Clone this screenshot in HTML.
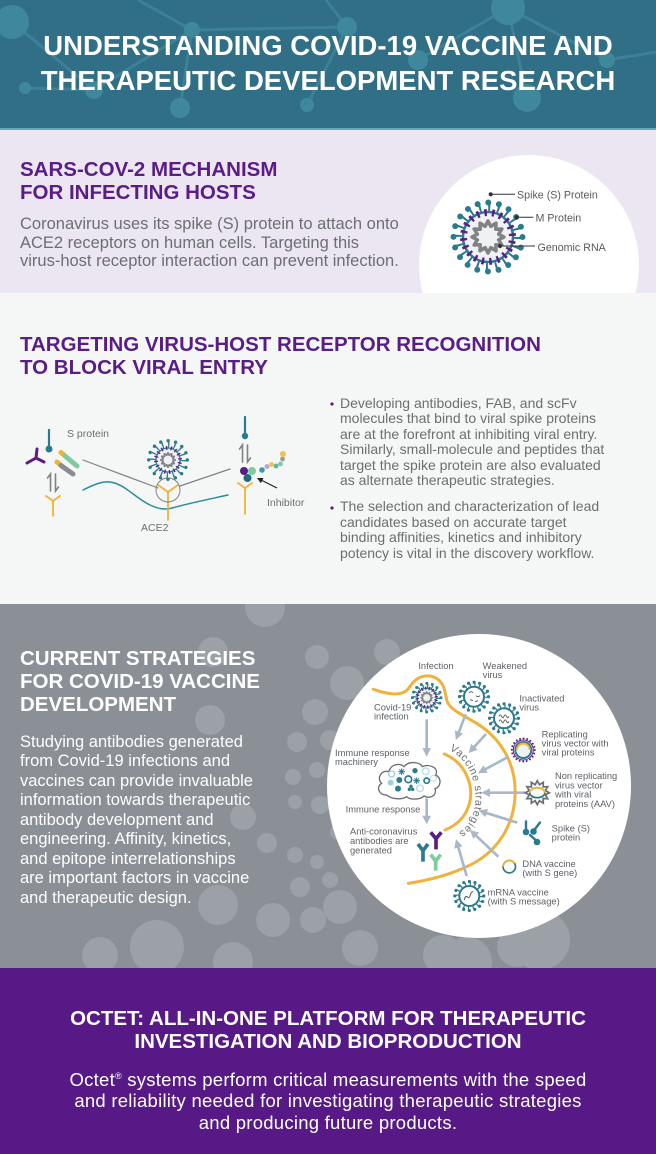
<!DOCTYPE html>
<html><head><meta charset="utf-8">
<style>
*{margin:0;padding:0;box-sizing:border-box}
html,body{width:656px;height:1154px;overflow:hidden;background:#fff}
body{position:relative;font-family:"Liberation Sans",Arial,sans-serif}
.abs{position:absolute;white-space:nowrap}
.h{font-weight:bold;font-size:20.5px;line-height:23px}
</style></head><body>
<svg class="abs" style="left:0;top:0" width="656" height="1154" viewBox="0 0 656 1154" font-family="Liberation Sans, Arial, sans-serif">
<defs>
 <polygon id="rna" points="16,0 10.63,2.85 13.86,8 7.78,7.78 8,13.86 2.85,10.63 0,16 -2.85,10.63 -8,13.86 -7.78,7.78 -13.86,8 -10.63,2.85 -16,0 -10.63,-2.85 -13.86,-8 -7.78,-7.78 -8,-13.86 -2.85,-10.63 0,-16 2.85,-10.63 8,-13.86 7.78,-7.78 13.86,-8 10.63,-2.85"/>
 <marker id="ah" viewBox="0 0 10 10" refX="3" refY="5" markerUnits="userSpaceOnUse" markerWidth="26" markerHeight="26" orient="auto"><path d="M0,0 L10,5 L0,10 z" fill="#a9b8c8"/></marker>
 <marker id="bh" viewBox="0 0 10 10" refX="8" refY="5" markerUnits="userSpaceOnUse" markerWidth="6" markerHeight="6" orient="auto"><path d="M0,0 L10,5 L0,10 z" fill="#222"/></marker>
 <clipPath id="s4"><rect x="0" y="604" width="656" height="364"/></clipPath>
 <clipPath id="s2"><rect x="0" y="130" width="656" height="163"/></clipPath>
</defs>

<!-- HEADER -->
<rect x="0" y="0" width="656" height="130" fill="#316f87"/>
<g stroke="#3c8196" stroke-width="3">
 <line x1="12" y1="22" x2="94" y2="90"/><line x1="25" y1="88" x2="94" y2="90"/>
 <line x1="94" y1="90" x2="192" y2="30"/><line x1="138" y1="0" x2="192" y2="30"/>
 <line x1="192" y1="30" x2="180" y2="108"/><line x1="192" y1="30" x2="347" y2="27"/>
 <line x1="326" y1="0" x2="347" y2="27"/><line x1="347" y1="27" x2="307" y2="105"/>
 <line x1="418" y1="60" x2="508" y2="8"/><line x1="508" y1="8" x2="607" y2="60"/>
 <line x1="607" y1="60" x2="656" y2="52"/><line x1="508" y1="8" x2="527" y2="98"/>
</g>
<g fill="#3f889b">
 <circle cx="12" cy="22" r="17"/><circle cx="94" cy="90" r="9"/><circle cx="25" cy="88" r="6"/>
 <circle cx="192" cy="30" r="8"/><circle cx="180" cy="108" r="10"/><circle cx="347" cy="27" r="10"/>
 <circle cx="307" cy="105" r="7"/><circle cx="418" cy="60" r="10"/><circle cx="508" cy="8" r="17"/>
 <circle cx="607" cy="60" r="8"/><circle cx="527" cy="98" r="14"/>
</g>
<rect x="0" y="128" width="656" height="2" fill="#6aa8b9"/>

<!-- SECTION 2 -->
<rect x="0" y="130" width="656" height="163" fill="#ebe6f2"/>
<circle cx="529" cy="265" r="110" fill="#fff" clip-path="url(#s2)"/>
<g transform="translate(488,237)">
 <circle r="29" fill="none" stroke="#2b7b8e" stroke-width="8" stroke-dasharray="2 7.11"/>
 <circle r="34.5" fill="none" stroke="#2b7b8e" stroke-width="6" stroke-linecap="round" stroke-dasharray="0 10.84"/>
 <circle r="25" fill="#f0f1f3" stroke="#2b7b8e" stroke-width="2.5"/>
 <circle r="24.5" fill="none" stroke="#5a1d86" stroke-width="7" stroke-dasharray="2.5 5.197" stroke-dashoffset="3.85"/>
 <use href="#rna" fill="none" stroke="#808285" stroke-width="3.5" stroke-linejoin="round"/>
</g>
<g stroke="#333" stroke-width="1">
 <line x1="490.7" y1="194.3" x2="515" y2="194.3"/><circle cx="490.7" cy="194.3" r="1.6" fill="#333"/>
 <line x1="516.7" y1="217.3" x2="533.3" y2="217.3"/><circle cx="516.7" cy="217.3" r="1.6" fill="#333"/>
 <line x1="500" y1="246" x2="535" y2="246"/><circle cx="500" cy="246" r="1.6" fill="#333"/>
</g>
<g font-size="10.7" fill="#58595b">
 <text x="517" y="198.5">Spike (S) Protein</text>
 <text x="535.5" y="221.5">M Protein</text>
 <text x="537.5" y="250.8">Genomic RNA</text>
</g>

<!-- SECTION 3 -->
<rect x="0" y="293" width="656" height="311" fill="#f5f6f6"/>
<g fill="none" stroke-linecap="round">
 <line x1="49" y1="430" x2="49" y2="446" stroke="#2b7b8e" stroke-width="2.2"/>
 <circle cx="49" cy="449" r="3.5" fill="#2b7b8e" stroke="none"/>
 <path d="M36,458 L27,463 M36,458 L37,449 M36,458 L44,462" stroke="#5a1d86" stroke-width="3"/>
 <line x1="61" y1="452.5" x2="64" y2="455" stroke="#f2b233" stroke-width="5"/>
 <line x1="65" y1="456" x2="77" y2="466" stroke="#7ecba1" stroke-width="5"/>
 <line x1="57" y1="462" x2="60" y2="464.5" stroke="#f2b233" stroke-width="5"/>
 <line x1="61" y1="465.5" x2="73" y2="474" stroke="#8a8c8f" stroke-width="5"/>
 <path d="M50.5,491 L50.5,474 L47.5,478 M55.5,474 L55.5,491 L58.5,487" stroke="#7f8184" stroke-width="1.6"/>
 <path d="M46,496 L53,501 L60,496 M53,501 L53,516" stroke="#f2b233" stroke-width="1.8"/>
 <line x1="83" y1="460" x2="158" y2="488" stroke="#808285" stroke-width="1.2"/>
 <line x1="180" y1="486" x2="230" y2="469" stroke="#808285" stroke-width="1.2"/>
 <path d="M83,490 C95,484 103,481 110,482 C125,484 135,498 150,505 C158,509 165,510 172,508 C190,503 210,499 228,495" stroke="#2b8aa0" stroke-width="1.5"/>
 <path d="M158,485 L168,492 L178,485 M168,492 L168,520" stroke="#f2b233" stroke-width="1.8"/>
 <circle cx="168" cy="490" r="12" stroke="#808285" stroke-width="1"/>
 <line x1="245" y1="417" x2="245" y2="433" stroke="#2b7b8e" stroke-width="2.2"/>
 <circle cx="245" cy="436" r="3.2" fill="#2b7b8e" stroke="none"/>
 <path d="M242.5,462 L242.5,445 L239.5,449 M247.5,445 L247.5,462 L250.5,458" stroke="#7f8184" stroke-width="1.6"/>
 <path d="M238,483 L245,488 L252,483 M245,488 L245,514" stroke="#f2b233" stroke-width="1.8"/>
</g>
<circle cx="244" cy="471" r="4" fill="#5a1d86"/>
<circle cx="252" cy="471" r="4" fill="#7ecba1"/>
<circle cx="247.5" cy="478" r="4" fill="#1f6a82"/>
<circle cx="262" cy="470" r="2.8" fill="#3c9ab0"/>
<circle cx="267" cy="466.5" r="2.4" fill="#b9a2d0"/>
<circle cx="271.5" cy="464.5" r="2.4" fill="#f2c14e"/>
<circle cx="276" cy="466" r="2.4" fill="#5fb6a8"/>
<circle cx="280.5" cy="464" r="2.4" fill="#7ecba1"/>
<circle cx="282.5" cy="459" r="2.4" fill="#9a9c9f"/>
<circle cx="283" cy="454" r="3" fill="#f2c14e"/>
<line x1="277" y1="488" x2="258" y2="478.5" stroke="#222" stroke-width="1.2" marker-end="url(#bh)"/>
<g transform="translate(168,460)">
 <circle r="15" fill="none" stroke="#2b7b8e" stroke-width="6" stroke-dasharray="1.3 4.59"/>
 <circle r="19.3" fill="none" stroke="#2b7b8e" stroke-width="3.4" stroke-linecap="round" stroke-dasharray="0 7.58"/>
 <circle r="12" fill="#f0f1f3" stroke="#2b7b8e" stroke-width="1.3"/>
 <circle r="12" fill="none" stroke="#5a1d86" stroke-width="4" stroke-dasharray="1.3 3.412" stroke-dashoffset="2.356"/>
 <use href="#rna" transform="scale(0.45)" fill="none" stroke="#808285" stroke-width="4" stroke-linejoin="round"/>
</g>
<g font-size="10.5" fill="#6d6e71">
 <text x="67" y="437">S protein</text>
 <text x="267" y="506">Inhibitor</text>
 <text x="141" y="531">ACE2</text>
</g>
<circle cx="332" cy="404" r="1.6" fill="#5a1d86"/>
<circle cx="332" cy="508" r="1.6" fill="#5a1d86"/>

<!-- SECTION 4 -->
<rect x="0" y="604" width="656" height="364" fill="#8b9097"/>
<g fill="#9ca1a7" clip-path="url(#s4)">
 <circle cx="265" cy="607" r="20"/><circle cx="213" cy="652" r="15"/><circle cx="317" cy="657" r="12"/>
 <circle cx="347" cy="683" r="17"/><circle cx="387" cy="652" r="13"/><circle cx="210" cy="720" r="15"/>
 <circle cx="315" cy="712" r="13"/><circle cx="297" cy="742" r="10"/><circle cx="317" cy="770" r="8"/>
 <circle cx="293" cy="777" r="8"/><circle cx="295" cy="802" r="7"/><circle cx="243" cy="817" r="13"/>
 <circle cx="267" cy="843" r="10"/><circle cx="295" cy="855" r="8"/><circle cx="317" cy="862" r="7"/>
 <circle cx="300" cy="887" r="10"/><circle cx="330" cy="880" r="8"/><circle cx="273" cy="920" r="17"/>
 <circle cx="313" cy="920" r="13"/><circle cx="218" cy="905" r="20"/><circle cx="157" cy="947" r="27"/>
 <circle cx="233" cy="962" r="20"/><circle cx="340" cy="907" r="17"/><circle cx="517" cy="947" r="20"/>
 <circle cx="443" cy="955" r="20"/><circle cx="540" cy="940" r="30"/><circle cx="467" cy="962" r="25"/>
 <circle cx="100" cy="955" r="18"/><circle cx="330" cy="740" r="10"/><circle cx="320" cy="805" r="9"/>
 <circle cx="338" cy="832" r="8"/><circle cx="345" cy="790" r="7"/><circle cx="360" cy="948" r="18"/>
</g>
<circle cx="479" cy="786" r="152" fill="#fff"/>

<g transform="translate(200,600) scale(0.33333)">
 <path d="M520,268 C570,285 610,290 628,262 C645,235 665,225 690,228 C730,235 735,270 740,300 C748,330 790,345 830,370 C910,420 950,500 945,590 C940,680 890,760 800,800 C740,828 680,842 625,850" fill="none" stroke="#f0b23a" stroke-width="9" stroke-linecap="round"/>
 <path d="M733,462 C800,490 822,560 808,612 C796,652 770,676 735,690" fill="none" stroke="#f0b23a" stroke-width="9" stroke-linecap="round"/>
 <path id="vs" d="M748,450 C822,486 840,590 818,645 C803,684 780,700 748,708" fill="none"/>
 <text font-size="32" fill="#6d6e71" letter-spacing="2"><textPath href="#vs">Vaccine strategies</textPath></text>
 <g stroke="#a9b8c8" stroke-width="8" marker-end="url(#ah)">
  <line x1="680" y1="358" x2="680" y2="452"/>
  <line x1="680" y1="595" x2="680" y2="655"/>
  <line x1="797" y1="343" x2="774" y2="403"/>
  <line x1="858" y1="402" x2="818" y2="446"/>
  <line x1="922" y1="472" x2="850" y2="511"/>
  <line x1="975" y1="578" x2="862" y2="578"/>
  <line x1="952" y1="668" x2="853" y2="637"/>
  <line x1="895" y1="770" x2="823" y2="702"/>
  <line x1="800" y1="828" x2="773" y2="735"/>
 </g>
 <path d="M560,585 C535,585 528,560 545,550 C528,535 545,508 567,515 C572,492 600,488 612,500 C625,482 660,485 667,500 C690,490 718,505 707,525 C727,535 722,562 705,566 C712,586 690,598 672,588 C660,600 630,600 620,590 C605,600 575,598 560,585 Z" fill="#fff" stroke="#6d6e71" stroke-width="4"/>
 <g>
  <circle cx="575" cy="522" r="9" fill="none" stroke="#9fd0de" stroke-width="4"/>
  <circle cx="645" cy="512" r="8" fill="#2b7b8e"/>
  <circle cx="677" cy="514" r="10" fill="none" stroke="#b5dbe6" stroke-width="4"/>
  <circle cx="700" cy="535" r="9" fill="none" stroke="#b5dbe6" stroke-width="3"/>
  <circle cx="572" cy="548" r="9" fill="#9fd0de"/>
  <circle cx="598" cy="540" r="9" fill="#2b7b8e"/>
  <circle cx="625" cy="538" r="10" fill="none" stroke="#2b7b8e" stroke-width="5"/>
  <circle cx="680" cy="542" r="8" fill="none" stroke="#2b7b8e" stroke-width="5"/>
  <circle cx="594" cy="566" r="9" fill="#2b7b8e"/>
  <circle cx="628" cy="568" r="5" fill="#2b7b8e"/><circle cx="638" cy="568" r="5" fill="#2b7b8e"/><circle cx="633" cy="559" r="5" fill="#2b7b8e"/>
  <circle cx="660" cy="565" r="10" fill="none" stroke="#b5dbe6" stroke-width="4"/>
  <path d="M605,505 L605,525 M595,515 L615,515 M598,508 L612,522 M612,508 L598,522" stroke="#2b7b8e" stroke-width="3"/>
  <path d="M650,532 L650,552 M640,542 L660,542 M643,535 L657,549 M657,535 L643,549" stroke="#2b7b8e" stroke-width="3"/>
 </g>
 <g fill="none" stroke-width="11">
  <path d="M692,697 L708,716 L724,697 M708,716 L708,748" stroke="#5a1d86"/>
  <path d="M654,732 L669,752 L684,732 M669,752 L669,785" stroke="#2b7b8e"/>
  <path d="M692,764 L707,783 L722,764 M707,783 L707,812" stroke="#7ecba1"/>
 </g>
 <g font-size="28" fill="#5d6167">
  <text x="655" y="207">Infection</text>
  <text x="848" y="207">Weakened</text><text x="848" y="234">virus</text>
  <text x="958" y="305">Inactivated</text><text x="958" y="332">virus</text>
  <text x="1025" y="412">Replicating</text><text x="1025" y="440">virus vector with</text><text x="1025" y="467">viral proteins</text>
  <text x="1065" y="537">Non replicating</text><text x="1065" y="565">virus vector</text><text x="1065" y="593">with viral</text><text x="1065" y="621">proteins (AAV)</text>
  <text x="1055" y="695">Spike (S)</text><text x="1055" y="722">protein</text>
  <text x="967" y="801">DNA vaccine</text><text x="967" y="828">(with S gene)</text>
  <text x="863" y="886">mRNA vaccine</text><text x="863" y="914">(with S message)</text>
  <text x="522" y="331">Covid-19</text><text x="522" y="358">infection</text>
  <text x="405" y="468">Immune response</text><text x="405" y="495">machinery</text>
  <text x="437" y="637">Immune response</text>
  <text x="450" y="704">Anti-coronavirus</text><text x="450" y="732">antibodies are</text><text x="450" y="760">generated</text>
 </g>
</g>
<g transform="translate(426.7,697.7)">
 <circle r="11.5" fill="none" stroke="#2b7b8e" stroke-width="4" stroke-dasharray="1.3 3.216"/>
 <circle r="14.3" fill="none" stroke="#2b7b8e" stroke-width="3" stroke-linecap="round" stroke-dasharray="0 5.616"/>
 <circle r="9.5" fill="#f0f1f3" stroke="#2b7b8e" stroke-width="1.3"/>
 <circle r="9.5" fill="none" stroke="#5a1d86" stroke-width="3.5" stroke-dasharray="1.2 2.531" stroke-dashoffset="1.865"/>
 <use href="#rna" transform="scale(0.36)" fill="none" stroke="#808285" stroke-width="4" stroke-linejoin="round"/>
</g>
<g transform="translate(474,696.7)">
 <circle r="11.75" fill="none" stroke="#2b7b8e" stroke-width="3.5" stroke-dasharray="1.2 3.414"/>
 <circle r="14.5" fill="none" stroke="#2b7b8e" stroke-width="3.2" stroke-linecap="round" stroke-dasharray="0 5.694"/>
 <circle r="10" fill="#fff" stroke="#2b7b8e" stroke-width="2"/>
 <path d="M-5,-4 q2,-2 4,0 M2,-1 q2,2 4,0 M-4,3 l3,1 M1,5 l3,-1" fill="none" stroke="#58595b" stroke-width="0.9"/>
</g>
<g transform="translate(504,718.3)">
 <circle r="11.75" fill="none" stroke="#2b7b8e" stroke-width="3.5" stroke-dasharray="1.2 3.414"/>
 <circle r="14.5" fill="none" stroke="#2b7b8e" stroke-width="3.2" stroke-linecap="round" stroke-dasharray="0 5.694"/>
 <circle r="10" fill="#fff" stroke="#2b7b8e" stroke-width="2"/>
 <path d="M-5,-2 q1.2,-3 2.5,0 t2.5,0 t2.5,0 t2.5,0 M-5,3 q1.2,-3 2.5,0 t2.5,0 t2.5,0 t2.5,0" fill="none" stroke="#58595b" stroke-width="0.9"/>
</g>
<g transform="translate(469.3,896)">
 <circle r="11.75" fill="none" stroke="#2b7b8e" stroke-width="3.5" stroke-dasharray="1.2 3.414"/>
 <circle r="14.5" fill="none" stroke="#2b7b8e" stroke-width="3.2" stroke-linecap="round" stroke-dasharray="0 5.694"/>
 <circle r="10" fill="#fff" stroke="#2b7b8e" stroke-width="2"/>
 <path d="M-5,4 q1,-5 3,-3 t3,-2 t3,-3" fill="none" stroke="#58595b" stroke-width="1"/>
</g>
<g transform="translate(523.3,750)">
 <circle r="11.5" fill="none" stroke="#5a1d86" stroke-width="2" stroke-linecap="round" stroke-dasharray="0 3.61"/>
 <circle r="10" fill="none" stroke="#5a1d86" stroke-width="1"/>
 <circle r="8" fill="#f0f1f3" stroke="#2b7b8e" stroke-width="2"/>
 <path d="M-6.5,0 A6.5,6.5 0 0 1 6.5,0" fill="none" stroke="#f2b233" stroke-width="2"/>
</g>
<g transform="translate(537.3,792.7)">
 <use href="#rna" transform="scale(0.75)" fill="#fff" stroke="#6d6e71" stroke-width="2.3" stroke-linejoin="miter"/>
 <ellipse rx="7.5" ry="5" fill="#fff" stroke="#2b7b8e" stroke-width="1.7"/>
 <path d="M-7.5,0 A7.5,5 0 0 1 7.5,0" fill="none" stroke="#f2b233" stroke-width="1.8"/>
</g>
<g stroke="#2b7b8e" stroke-width="2.4" stroke-linecap="round">
 <line x1="526" y1="821.5" x2="526" y2="829"/>
 <line x1="540" y1="822.5" x2="535" y2="829"/>
 <line x1="530" y1="835" x2="535" y2="839.5"/>
</g>
<circle cx="526" cy="832" r="3.3" fill="#2b7b8e"/>
<circle cx="533.5" cy="831.5" r="3.3" fill="#2b7b8e"/>
<circle cx="537" cy="842" r="3.3" fill="#2b7b8e"/>
<circle cx="509.3" cy="866.7" r="6.2" fill="#fff" stroke="#2b7b8e" stroke-width="1.7"/>
<path d="M503.1,866.7 A6.2,6.2 0 0 1 514.5,863.3" fill="none" stroke="#f2b233" stroke-width="1.8"/>

<!-- SECTION 5 -->
<rect x="0" y="968" width="656" height="186" fill="#571985"/>
</svg>

<div class="abs" style="left:0;width:656px;top:28px;text-align:center;font-weight:bold;font-size:27.5px;line-height:35px;color:#fff">UNDERSTANDING COVID-19 VACCINE AND<br>THERAPEUTIC DEVELOPMENT RESEARCH</div>

<div class="abs h" style="left:20px;top:158.4px;color:#5a1d86">SARS-COV-2 MECHANISM<br>FOR INFECTING HOSTS</div>
<div class="abs" style="left:20px;top:215px;font-size:16.5px;line-height:18.5px;color:#6d6e71">Coronavirus uses its spike (S) protein to attach onto<br>ACE2 receptors on human cells. Targeting this<br>virus-host receptor interaction can prevent infection.</div>

<div class="abs h" style="left:20px;top:333.4px;color:#5a1d86">TARGETING VIRUS-HOST RECEPTOR RECOGNITION<br>TO BLOCK VIRAL ENTRY</div>
<div class="abs" style="left:340px;top:395.7px;font-size:14px;line-height:15.5px;color:#6d6e71">Developing antibodies, FAB, and scFv<br>molecules that bind to viral spike proteins<br>are at the forefront at inhibiting viral entry.<br>Similarly, small-molecule and peptides that<br>target the spike protein are also evaluated<br>as alternate therapeutic strategies.
<div style="height:10.5px"></div>The selection and characterization of lead<br>candidates based on accurate target<br>binding affinities, kinetics and inhibitory<br>potency is vital in the discovery workflow.</div>

<div class="abs h" style="left:20px;top:647.1px;color:#fff">CURRENT STRATEGIES<br>FOR COVID-19 VACCINE<br>DEVELOPMENT</div>
<div class="abs" style="left:20px;top:732.8px;font-size:16.5px;line-height:19.5px;color:#fff">Studying antibodies generated<br>from Covid-19 infections and<br>vaccines can provide invaluable<br>information towards therapeutic<br>antibody development and<br>engineering. Affinity, kinetics,<br>and epitope interrelationships<br>are important factors in vaccine<br>and therapeutic design.</div>

<div class="abs h" style="left:0;width:656px;top:1007px;text-align:center;color:#fff">OCTET: ALL-IN-ONE PLATFORM FOR THERAPEUTIC<br>INVESTIGATION AND BIOPRODUCTION</div>
<div class="abs" style="left:0;width:656px;top:1068.7px;text-align:center;font-size:18.5px;line-height:21.7px;letter-spacing:0.25px;color:#fff">Octet<sup style="font-size:9px;vertical-align:7px;line-height:0">®</sup> systems perform critical measurements with the speed<br>and reliability needed for investigating therapeutic strategies<br>and producing future products.</div>
</body></html>
